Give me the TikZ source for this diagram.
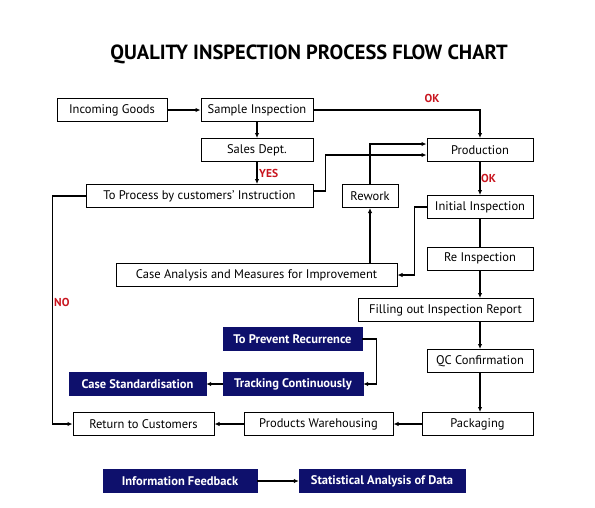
\documentclass[tikz,border=0pt]{standalone}
\usepackage{fontspec}
\setmainfont{PT Sans}
\usetikzlibrary{arrows.meta}
\definecolor{navy}{RGB}{14,16,108}
\definecolor{okred}{RGB}{200,20,30}
\tikzset{
	box/.style={draw=black, line width=1pt, fill=white, minimum height=23pt, inner sep=0pt, font=\fontsize{12.5}{14}\selectfont},
	darkbox/.style={draw=navy, fill=navy, text=white, minimum height=23pt, inner sep=0pt, font=\fontsize{12.5}{14}\selectfont\bfseries},
	link/.style={line width=1.3pt, -{Latex[length=5pt,width=4.5pt]}},
	tag/.style={text=okred, font=\fontsize{11.5}{12}\selectfont\bfseries, inner sep=0pt}
}
\begin{document}
\begin{tikzpicture}[x=1pt, y=-1pt]
		%%%%% FRAME %%%%%
		\useasboundingbox (0,0) rectangle (595,507);
		
		\node[font=\fontsize{20.5}{22}\selectfont\bfseries] (title) at (309,54) {QUALITY INSPECTION PROCESS FLOW CHART};
		
		%%%%% TOP ROW %%%%%
		\node[box, minimum width=110] (incoming) at (112,110) {Incoming Goods};
		\node[box, minimum width=112] (sample) at (257,110) {Sample Inspection};
		\node[box, minimum width=112] (sales) at (257,150) {Sales Dept.};
		\node[box, minimum width=227] (process) at (199.5,196) {To Process by customers' Instruction};
		\node[box, minimum width=106] (production) at (480,150) {Production};
		\node[box, minimum width=56] (rework) at (370,196) {Rework};
		\node[box, minimum width=106] (initial) at (480,207) {Initial Inspection};
		
		%%%%% MIDDLE %%%%%
		\node[box, minimum width=281] (analysis) at (256.5,275) {Case Analysis and Measures for Improvement};
		\node[box, minimum width=106] (reinsp) at (480,258.5) {Re Inspection};
		\node[box, minimum width=175] (report) at (445.5,310) {Filling out Inspection Report};
		\node[darkbox, minimum width=139] (prevent) at (292.5,339) {To Prevent Recurrence};
		\node[box, minimum width=106] (qc) at (480,361) {QC Confirmation};
		\node[darkbox, minimum width=137] (standard) at (137.5,384) {Case Standardisation};
		\node[darkbox, minimum width=140] (tracking) at (293,384) {Tracking Continuously};
		
		%%%%% BOTTOM ROW %%%%%
		\node[box, minimum width=141] (return) at (143.5,424) {Return to Customers};
		\node[box, minimum width=149] (warehouse) at (318.5,424) {Products Warehousing};
		\node[box, minimum width=111] (packaging) at (477.5,424) {Packaging};
		\node[darkbox, minimum width=154] (feedback) at (180,481) {Information Feedback};
		\node[darkbox, minimum width=166] (statistics) at (382,481) {Statistical Analysis of Data};
		
		%%%%% CONNECTORS %%%%%
		\draw[link] (incoming) -- (sample);
		\draw[link] (sample) -- (sales);
		\draw[link] (sales.south) -- (sales.south |- process.north);
		\node[tag, anchor=west] (yes) at (259,173) {YES};
		\draw[link] (sample.east) -| (production.north);
		\node[tag] (ok1) at (432,98) {OK};
		\draw[link] ([yshift=-7pt]process.north east) -- ++(12,0) |- ([yshift=-5pt]production.west);
		\draw[link] (rework.north) |- ([yshift=6pt]production.west);
		\draw[link] (production) -- (initial);
		\node[tag, anchor=west] (ok2) at (481,178) {OK};
		\draw[link] (initial.west) -- ++(-12,0) |- (analysis.east);
		\draw[link] (analysis.north -| rework) -- (rework.south);
		\draw[line width=1.3pt] (initial) -- (reinsp);
		\draw[link] (reinsp) -- (report.north -| reinsp);
		\draw[link] (report.south -| qc) -- (qc);
		\draw[link] (qc) -- (packaging.north -| qc);
		\draw[link] (packaging) -- (warehouse);
		\draw[link] (warehouse) -- (return);
		\draw[link] (process.west) -- ++(-33,0) |- (return.west);
		\node[tag, anchor=west] (no) at (54,302) {NO};
		\draw[link] (prevent.east) -- ++(14,0) |- (tracking.east);
		\draw[link] (tracking) -- (standard);
		\draw[link] (feedback) -- (statistics);
		
		%%%%% END %%%%%
	\end{tikzpicture}
\end{document}
